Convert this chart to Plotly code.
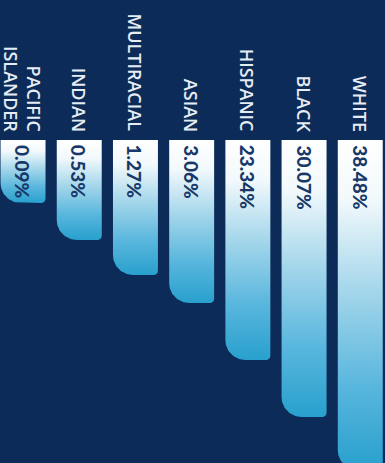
import numpy as np
import plotly.graph_objects as go

# ---- data ----
categories = ["PACIFIC<br>ISLANDER", "INDIAN", "MULTIRACIAL", "ASIAN", "HISPANIC", "BLACK", "WHITE"]
percent_values = [0.09, 0.53, 1.27, 3.06, 23.34, 30.07, 38.48]
# bar lengths as drawn in the graphic (decorative, not proportional)
bar_lengths = [63, 100, 135, 163, 220, 277, 330]

# ---- style ----
BG = "#0c2b58"
TOP = 140          # where bars start (y axis grows downward)
HALF_W = 0.4       # half bar width in category units
PX_PER_X = 56.2    # pixels per category unit
R_LEFT = 20        # bottom-left corner radius (px)
R_RIGHT = 4        # bottom-right corner radius (px)

colorscale = [[0.0, "#ffffff"], [0.18, "#f2f9fc"], [0.45, "#a6d7eb"],
              [0.75, "#58b6dd"], [1.0, "#28a0cd"]]

fig = go.Figure()

for i, (cat, val, L) in enumerate(zip(categories, percent_values, bar_lengths)):
    xl, xr = i - HALF_W, i + HALF_W
    b = TOP + L
    r1x, r2x = R_LEFT / PX_PER_X, R_RIGHT / PX_PER_X
    xs = [xl, xr]
    ys = [TOP, TOP]
    th = np.linspace(0, np.pi / 2, 12)
    cx, cy = xr - r2x, b - R_RIGHT
    xs += list(cx + r2x * np.cos(th))
    ys += list(cy + R_RIGHT * np.sin(th))
    th = np.linspace(np.pi / 2, np.pi, 24)
    cx, cy = xl + r1x, b - R_LEFT
    xs += list(cx + r1x * np.cos(th))
    ys += list(cy + R_LEFT * np.sin(th))
    xs.append(xl)
    ys.append(TOP)
    fig.add_trace(go.Scatter(
        x=xs, y=ys, mode="lines", line=dict(width=0), fill="toself",
        fillgradient=dict(type="vertical", colorscale=colorscale, start=TOP, stop=b),
        hoverinfo="skip", showlegend=False,
    ))
    fig.add_annotation(
        x=i, y=TOP + 3, text=f"{val:.2f}%", textangle=90, showarrow=False,
        xanchor="center", yanchor="top",
        font=dict(family="Lato", size=19, color="#173868", weight=900),
    )
    fig.add_annotation(
        x=i, y=TOP - 6, text=cat, textangle=90, showarrow=False,
        xanchor="center", yanchor="bottom", align="right",
        font=dict(family="Open Sans", size=18, color="#e6ecf3", weight=600),
    )

fig.update_layout(
    width=385, height=463, margin=dict(l=0, r=0, t=0, b=0),
    paper_bgcolor=BG, plot_bgcolor=BG,
    xaxis=dict(range=[-0.41, 6.44], visible=False, fixedrange=True),
    yaxis=dict(range=[463, 0], visible=False, fixedrange=True),
)

fig.write_html("out.html")
